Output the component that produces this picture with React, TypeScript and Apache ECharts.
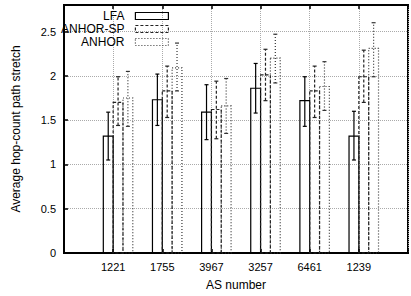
import React, { useEffect, useRef } from "react";
import * as echarts from "echarts";

const categories = ["1221", "1755", "3967", "3257", "6461", "1239"];
const lfa = [1.32, 1.73, 1.59, 1.86, 1.72, 1.32];
const lfaLow = [1.05, 1.44, 1.28, 1.58, 1.43, 1.05];
const lfaHigh = [1.59, 2.02, 1.9, 2.14, 1.99, 1.6];
const sp = [1.7, 1.83, 1.62, 2.01, 1.83, 1.99];
const spLow = [1.44, 1.53, 1.29, 1.72, 1.53, 1.7];
const spHigh = [1.99, 2.11, 1.94, 2.3, 2.11, 2.29];
const anhor = [1.75, 2.09, 1.66, 2.2, 1.88, 2.31];
const anhorLow = [1.43, 1.83, 1.35, 1.92, 1.61, 1.99];
const anhorHigh = [2.05, 2.37, 1.97, 2.47, 2.16, 2.6];

const FONT = "Liberation Sans, Arial, Helvetica, sans-serif";

function makeSeries(name: string, vals: number[], lo: number[], hi: number[], offset: number, color: string, dash: number[] | null) {
  return {
    name,
    type: "custom",
    data: vals.map((v, i) => [i, v, lo[i], hi[i]]),
    itemStyle: { color: "transparent", borderColor: color, borderType: dash ? dash : "solid" },
    renderItem: (params: any, api: any) => {
      const x = api.value(0) + offset;
      const v = api.value(1);
      const l = api.value(2);
      const h = api.value(3);
      const pTop = api.coord([x - 0.1, v]);
      const pBot = api.coord([x + 0.1, 0]);
      const pl = api.coord([x, l]);
      const ph = api.coord([x, h]);
      const cap = 2;
      const st: any = { stroke: color, lineWidth: 1.2, fill: "none" };
      if (dash) st.lineDash = dash;
      return {
        type: "group",
        children: [
          { type: "rect", shape: { x: pTop[0], y: pTop[1], width: pBot[0] - pTop[0], height: pBot[1] - pTop[1] }, style: { ...st } },
          { type: "line", shape: { x1: pl[0], y1: pl[1], x2: ph[0], y2: ph[1] }, style: { ...st } },
          { type: "line", shape: { x1: pl[0] - cap, y1: pl[1], x2: pl[0] + cap, y2: pl[1] }, style: { stroke: color, lineWidth: 1.2 } },
          { type: "line", shape: { x1: ph[0] - cap, y1: ph[1], x2: ph[0] + cap, y2: ph[1] }, style: { stroke: color, lineWidth: 1.2 } },
        ],
      };
    },
  };
}

function legendFor(name: string, top: number, color: string, dash: any) {
  return {
    right: 242,
    top,
    orient: "vertical",
    align: "right",
    icon: "rect",
    itemWidth: 33,
    itemHeight: 7,
    itemGap: 0,
    padding: 0,
    textStyle: { fontFamily: FONT, fontSize: 12, color: "#000", padding: [0, 6, 0, 0] },
    data: [{ name, itemStyle: { color: "transparent", borderColor: color, borderWidth: 1.2, borderType: dash } }],
  };
}

export default function App() {
  const ref = useRef<HTMLDivElement>(null);
  useEffect(() => {
    if (!ref.current) return;
    const chart = echarts.init(ref.current, null, { renderer: "svg" });
    const grid = "#aaa";
    chart.setOption({
      animation: false,
      backgroundColor: "#fff",
      grid: { left: 64, top: 5, width: 352, height: 251, show: true, borderColor: "#000", borderWidth: 2, backgroundColor: "transparent" },
      legend: [
        legendFor("LFA", 10, "#000", "solid"),
        legendFor("ANHOR-SP", 23, "#222", [3, 2]),
        legendFor("ANHOR", 36, "#333", [1, 2]),
      ],
      xAxis: [
        {
          type: "value",
          min: -1,
          max: 6,
          interval: 1,
          position: "bottom",
          name: "AS number",
          nameLocation: "middle",
          nameGap: 26,
          nameTextStyle: { fontFamily: FONT, fontSize: 12, color: "#000" },
          axisLine: { show: true, onZero: false, lineStyle: { color: "#000", width: 2 } },
          axisTick: { show: true, inside: true, length: 4, lineStyle: { color: "#000", width: 1.5 } },
          axisLabel: {
            fontFamily: FONT,
            fontSize: 11,
            color: "#000",
            margin: 8,
            formatter: (v: number) => (v >= 0 && v < categories.length ? categories[v] : ""),
          },
          splitLine: { show: true, lineStyle: { color: grid, type: "dotted", width: 1 } },
        },
        {
          type: "value",
          min: -1,
          max: 6,
          interval: 1,
          position: "top",
          axisLine: { show: true, onZero: false, lineStyle: { color: "#000", width: 2 } },
          axisTick: { show: true, inside: true, length: 4, lineStyle: { color: "#000", width: 1.5 } },
          axisLabel: { show: false },
          splitLine: { show: false },
        },
      ],
      yAxis: {
        type: "value",
        min: 0,
        max: 2.8,
        interval: 0.5,
        name: "Average hop-count path stretch",
        nameLocation: "middle",
        nameGap: 42,
        nameTextStyle: { fontFamily: FONT, fontSize: 12, color: "#000" },
        axisLine: { show: true, onZero: false, lineStyle: { color: "#000", width: 2 } },
        axisTick: { show: true, inside: true, length: 4, lineStyle: { color: "#000", width: 1.5 } },
        axisLabel: {
          fontFamily: FONT,
          fontSize: 11,
          color: "#000",
          margin: 8,
          showMaxLabel: false,
          formatter: (v: number) => (v > 2.6 ? "" : String(v)),
        },
        splitLine: { show: true, lineStyle: { color: grid, type: "dotted", width: 1 } },
      },
      series: [
        makeSeries("LFA", lfa, lfaLow, lfaHigh, -0.1, "#000", null),
        makeSeries("ANHOR-SP", sp, spLow, spHigh, 0.1, "#222", [3, 2]),
        makeSeries("ANHOR", anhor, anhorLow, anhorHigh, 0.3, "#333", [1, 2]),
      ],
    });
    return () => chart.dispose();
  }, []);
  return <div ref={ref} style={{ position: "absolute", left: 0, top: 0, width: 411, height: 296 }} />;
}
